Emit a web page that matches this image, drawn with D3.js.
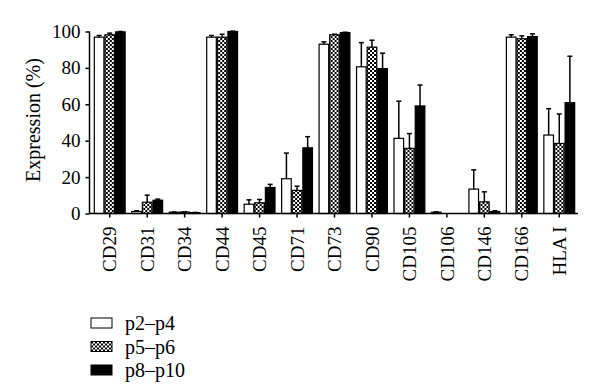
<!DOCTYPE html>
<html>
<head>
<meta charset="utf-8">
<script src="https://cdn.jsdelivr.net/npm/d3@7"></script>
<style>
  body { margin: 0; background: #fff; }
  text { font-family: "Liberation Serif", "DejaVu Serif", serif; fill: #000; }
</style>
</head>
<body>
<div id="chart"></div>
<script>
var markers = ["CD29", "CD31", "CD34", "CD44", "CD45", "CD71", "CD73", "CD90", "CD105", "CD106", "CD146", "CD166", "HLA I"];
var passages = ["p2–p4", "p5–p6", "p8–p10"];

// mean expression (%)
var p2p4 = [96.9, 1.1, 0.7, 96.9, 5.1, 19.1, 93.0, 80.6, 41.3, 0.7, 13.4, 96.9, 43.1];
var p5p6 = [98.2, 6.2, 0.8, 96.9, 5.9, 12.7, 98.2, 91.4, 35.8, 0.0, 6.4, 96.0, 38.5];
var p8p10 = [99.8, 7.3, 0.5, 100, 14.3, 36.1, 99.4, 79.6, 59.1, 0.0, 1.1, 97.2, 60.9];

// upper error (SD)
var p2p4Err = [0.9, 0.4, 0.1, 0.9, 2.4, 14.1, 1.3, 13.3, 20.4, 0.2, 10.6, 1.3, 14.5];
var p5p6Err = [0.9, 3.9, 0.1, 1.6, 1.8, 2.3, 0.3, 3.8, 8.1, 0.0, 5.5, 1.6, 16.2];
var p8p10Err = [0.2, 0.6, 0.1, 0.2, 1.7, 6.1, 0.2, 8.5, 11.5, 0.0, 0.4, 1.5, 25.5];

var yTicks = [0, 20, 40, 60, 80, 100];

var values = [p2p4, p5p6, p8p10];
var errors = [p2p4Err, p5p6Err, p8p10Err];

var svg = d3.select("#chart").append("svg")
    .attr("width", 600)
    .attr("height", 390);

var defs = svg.append("defs");
var pat = defs.append("pattern")
    .attr("id", "checker")
    .attr("patternUnits", "userSpaceOnUse")
    .attr("width", 4)
    .attr("height", 4);
pat.append("rect").attr("width", 4).attr("height", 4).attr("fill", "#fff");
pat.append("rect").attr("width", 2).attr("height", 2).attr("fill", "#000");
pat.append("rect").attr("x", 2).attr("y", 2).attr("width", 2).attr("height", 2).attr("fill", "#000");

var fills = ["#fff", "url(#checker)", "#000"];

var x = d3.scaleBand()
    .domain(markers)
    .range([91, 578])
    .paddingInner(0.15)
    .paddingOuter(0.075);

var xs = d3.scaleBand()
    .domain(d3.range(passages.length))
    .range([0, x.bandwidth()]);

var y = d3.scaleLinear()
    .domain([0, 100])
    .range([213.5, 31.5]);

// bars
var groups = svg.append("g").selectAll("g")
    .data(markers)
    .enter().append("g")
    .attr("transform", function(d) { return "translate(" + x(d) + ",0)"; });

groups.each(function(m, i) {
    var g = d3.select(this);
    for (var s = 0; s < passages.length; s++) {
        var v = values[s][i], e = errors[s][i];
        var bx = xs(s), bw = xs.bandwidth();
        g.append("rect")
            .attr("x", bx + 0.5)
            .attr("y", y(v))
            .attr("width", bw - 1)
            .attr("height", y(0) - y(v))
            .attr("fill", fills[s])
            .attr("stroke", "#000")
            .attr("stroke-width", 1.2);
        if (e > 0) {
            var cx = bx + bw / 2;
            g.append("line")
                .attr("x1", cx).attr("x2", cx)
                .attr("y1", y(v)).attr("y2", y(v + e))
                .attr("stroke", "#000").attr("stroke-width", 1.5);
            g.append("line")
                .attr("x1", cx - 2.5).attr("x2", cx + 2.5)
                .attr("y1", y(v + e)).attr("y2", y(v + e))
                .attr("stroke", "#000").attr("stroke-width", 1.5);
        }
    }
});

// y axis
var yAxis = svg.append("g")
    .attr("transform", "translate(89.5,0)")
    .call(d3.axisLeft(y).tickValues(yTicks).tickSize(4).tickPadding(5));
yAxis.select(".domain").attr("d", "M0," + y(0) + "V" + y(100)).attr("stroke-width", 1.5);
yAxis.selectAll(".tick line").attr("stroke-width", 1.5);
yAxis.selectAll("text").style("font-size", "19px").attr("fill", "#000");

// x axis
var xAxis = svg.append("g")
    .attr("transform", "translate(0," + y(0) + ")")
    .call(d3.axisBottom(x).tickSize(4).tickSizeOuter(0));
xAxis.select(".domain").attr("d", "M89.5,0H578").attr("stroke-width", 1.5);
xAxis.selectAll(".tick line").attr("stroke-width", 1.5);
xAxis.selectAll("text")
    .style("font-size", "19px")
    .attr("fill", "#000")
    .attr("text-anchor", "end")
    .attr("transform", "rotate(-90)")
    .attr("x", -13)
    .attr("y", 0)
    .attr("dy", "0.35em");

// y label
svg.append("text")
    .attr("text-anchor", "middle")
    .attr("transform", "translate(40,120) rotate(-90)")
    .style("font-size", "20px")
    .text("Expression (%)");

// legend
var legend = svg.append("g").selectAll("g")
    .data(passages)
    .enter().append("g")
    .attr("transform", function(d, i) { return "translate(91," + (318 + i * 23.5) + ")"; });

legend.append("rect")
    .attr("width", 21)
    .attr("height", 10)
    .attr("fill", function(d, i) { return fills[i]; })
    .attr("stroke", "#000")
    .attr("stroke-width", 1);

legend.append("text")
    .attr("x", 34)
    .attr("y", 5)
    .attr("dy", "0.35em")
    .style("font-size", "20px")
    .text(function(d) { return d; });
</script>
</body>
</html>
